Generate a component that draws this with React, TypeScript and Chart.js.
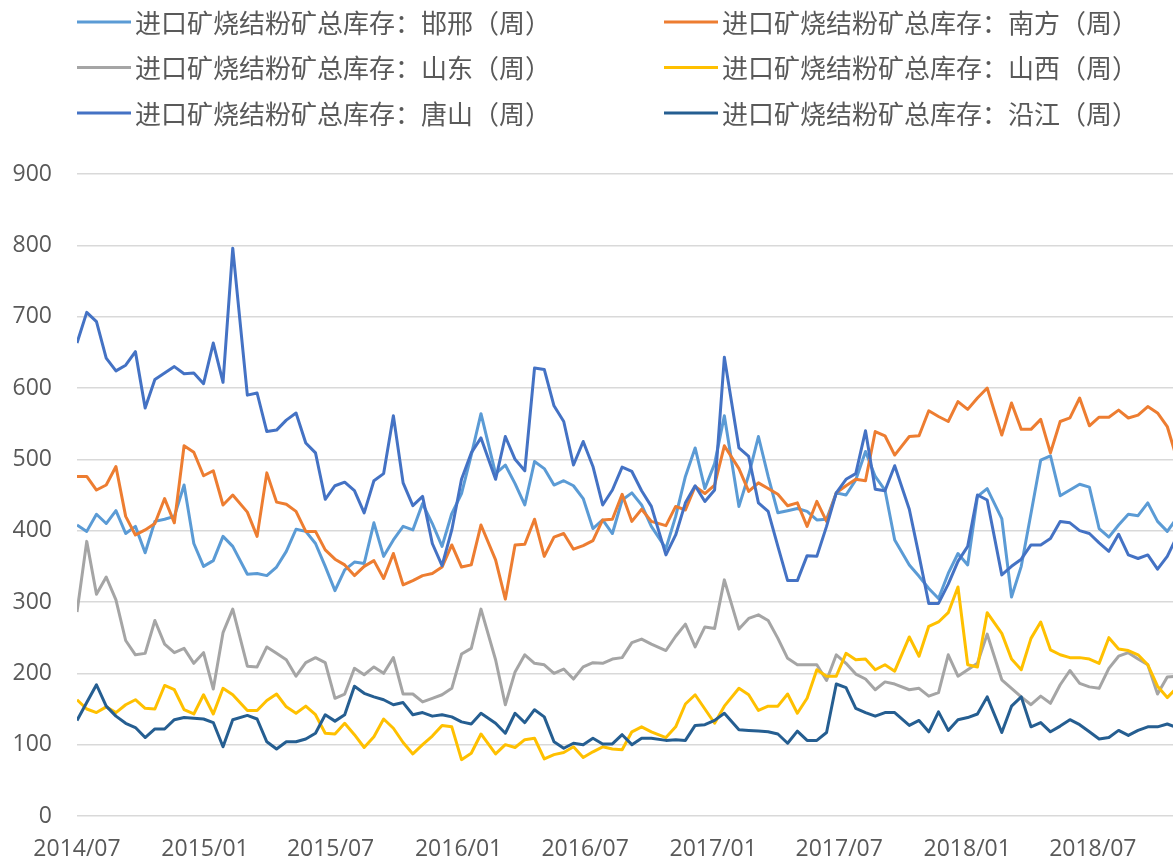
import React, { useEffect, useRef } from "react";
import { Chart, registerables } from "chart.js";

Chart.register(...registerables);

// x positions of the observations, in weeks after the first one (2014/07)
const weekOffsets = [
  0, 2, 4, 6, 8, 10, 12, 14, 16, 18, 20, 22, 24, 26, 28, 30, 32,
  35, 37, 39, 41, 43, 45, 47, 49, 51, 53, 55, 57, 59, 61, 63, 65, 67, 69, 71, 73, 75, 77, 79, 81, 83,
  86, 88, 90, 92, 94, 96, 98, 100, 102, 104, 106, 108, 110, 112, 114, 116, 118,
  121, 123, 125, 127, 129, 131, 133,
  136,
  138, 140, 142, 144, 146, 148, 150, 152, 154, 156, 158, 160, 162, 164, 166, 168,
  171, 173, 175, 177, 179, 181, 183, 185, 187,
  190, 192, 194, 196, 198, 200, 202, 204, 206, 208, 210, 212, 214, 216, 218, 220, 222, 224, 226,
];

const tickWeeks = [0, 26.3, 52.1, 78.4, 104.4, 130.7, 156.6, 182.9, 208.7];
const tickLabels = ["2014/07", "2015/01", "2015/07", "2016/01", "2016/07", "2017/01", "2017/07", "2018/01", "2018/07"];

const seriesNames = [
  "进口矿烧结粉矿总库存：邯邢（周）",
  "进口矿烧结粉矿总库存：南方（周）",
  "进口矿烧结粉矿总库存：山东（周）",
  "进口矿烧结粉矿总库存：山西（周）",
  "进口矿烧结粉矿总库存：唐山（周）",
  "进口矿烧结粉矿总库存：沿江（周）",
];

const handan = [
  408, 399, 423, 410, 428, 396, 406, 369, 413, 416, 420, 464, 382, 350, 358, 392, 378,
  339, 340, 337, 349, 371, 402, 399, 382, 350, 316, 345, 356, 354, 411, 364, 387, 406, 401, 438, 410, 378, 424, 452, 506, 564,
  480, 492, 466, 436, 497, 487, 464, 470, 463, 445, 403, 415, 396, 443, 453, 436, 406,
  375, 420, 476, 516, 459, 494, 561,
  434,
  478, 532, 476, 425, 428, 431, 427, 415, 416, 453, 450, 471, 511, 476, 457, 387,
  352, 336, 319, 305, 340, 368, 352, 448, 459,
  417, 307, 350, 424, 499, 505, 449, 457, 465, 461, 403, 391, 408, 423, 421, 439, 413, 399, 418,
];

const nanfang = [
  476, 476, 457, 464, 490, 420, 394, 401, 410, 445, 411, 519, 510, 477, 484, 436, 450,
  426, 392, 481, 440, 437, 427, 399, 399, 373, 360, 352, 337, 350, 358, 333, 368, 324, 330, 337, 340, 349, 380, 349, 352, 408,
  359, 304, 380, 381, 416, 364, 391, 396, 374, 379, 386, 415, 416, 451, 413, 430, 413,
  407, 434, 429, 462, 452, 464, 519,
  487,
  455, 467, 459, 451, 435, 439, 406, 441, 413, 453, 463, 472, 470, 539, 533, 506,
  532, 533, 568, 560, 553, 581, 570, 586, 600,
  534, 579, 542, 542, 556, 509, 553, 558, 586, 547, 559, 559, 569, 558, 562, 574, 565, 546, 500,
];

const shandong = [
  286, 385, 311, 335, 303, 246, 226, 228, 274, 241, 229, 235, 214, 229, 178, 257, 290,
  210, 209, 237, 228, 219, 196, 215, 222, 215, 165, 171, 207, 198, 209, 200, 222, 171, 171, 160, 165, 170, 179, 227, 235, 290,
  219, 156, 202, 226, 214, 212, 200, 206, 192, 209, 215, 214, 220, 222, 243, 248, 241,
  232, 252, 269, 237, 265, 263, 331,
  262,
  277, 282, 274, 249, 221, 212, 212, 212, 190, 226, 214, 199, 192, 177, 188, 185,
  177, 179, 168, 173, 226, 196, 205, 214, 255,
  191, 179, 167, 156, 168, 158, 184, 204, 186, 181, 179, 207, 224, 229, 220, 212, 171, 195, 196,
];

const shanxi = [
  163, 150, 145, 153, 145, 156, 163, 151, 150, 183, 177, 149, 143, 170, 143, 179, 170,
  148, 148, 162, 171, 153, 144, 154, 142, 116, 115, 130, 114, 96, 111, 136, 123, 103, 87, 100, 112, 127, 125, 79, 88, 115,
  87, 100, 96, 107, 109, 80, 86, 89, 97, 82, 90, 97, 94, 93, 118, 125, 118,
  110, 125, 157, 170, 150, 130, 154,
  179,
  170, 148, 154, 154, 171, 144, 165, 205, 196, 196, 228, 219, 220, 205, 212, 203,
  251, 224, 266, 272, 285, 321, 212, 209, 285,
  256, 220, 205, 249, 272, 233, 226, 222, 222, 220, 214, 250, 234, 232, 226, 212, 182, 166, 180,
];

const tangshan = [
  663, 706, 693, 642, 624, 632, 651, 572, 612, 621, 630, 620, 621, 606, 663, 608, 796,
  590, 593, 539, 541, 555, 565, 523, 509, 444, 463, 468, 456, 425, 470, 480, 561, 467, 435, 448, 382, 351, 401, 472, 509, 530,
  472, 532, 500, 484, 628, 626, 575, 553, 492, 525, 490, 436, 457, 489, 483, 456, 434,
  366, 394, 439, 463, 441, 457, 643,
  516,
  504, 439, 427, 378, 330, 330, 365, 364, 406, 453, 472, 480, 540, 458, 456, 491,
  430, 365, 298, 298, 325, 357, 378, 450, 443,
  338, 350, 360, 380, 380, 389, 413, 411, 400, 396, 383, 371, 395, 366, 361, 366, 346, 364, 392,
];

const yanjiang = [
  134, 159, 184, 154, 140, 130, 124, 110, 122, 122, 135, 138, 137, 136, 131, 97, 135,
  141, 136, 104, 94, 104, 104, 108, 116, 142, 133, 142, 182, 172, 167, 163, 156, 159, 142, 145, 140, 142, 139, 132, 129, 144,
  130, 116, 144, 131, 149, 139, 104, 95, 102, 100, 109, 101, 101, 114, 100, 109, 109,
  106, 107, 106, 127, 128, 134, 144,
  121,
  120, 119, 118, 115, 102, 119, 106, 106, 117, 185, 180, 151, 145, 140, 145, 145,
  127, 134, 118, 146, 120, 135, 138, 143, 167,
  117, 154, 167, 125, 131, 118, 126, 135, 128, 118, 108, 110, 120, 113, 120, 125, 125, 129, 124,
];

const seriesValues = [handan, nanfang, shandong, shanxi, tangshan, yanjiang];
const seriesColors = ["#5B9BD5", "#ED7D31", "#A5A5A5", "#FFC000", "#4472C4", "#255E91"];

const legendPlugin = {
  id: "twoColumnLegend",
  afterDraw(chart: any) {
    const ctx = chart.ctx;
    ctx.save();
    ctx.font = '26px "Noto Sans CJK SC"';
    ctx.textBaseline = "middle";
    ctx.textAlign = "left";
    chart.data.datasets.forEach((ds: any, i: number) => {
      const col = i % 2;
      const row = Math.floor(i / 2);
      const x = col === 0 ? 77 : 664;
      const y = 22 + row * 45.5;
      ctx.strokeStyle = ds.borderColor;
      ctx.lineWidth = 3;
      ctx.lineCap = "butt";
      ctx.beginPath();
      ctx.moveTo(x, y);
      ctx.lineTo(x + 54, y);
      ctx.stroke();
      ctx.fillStyle = "#595959";
      ctx.fillText(ds.label, x + 58, y + 1);
    });
    ctx.restore();
  },
};

export default function App() {
  const canvasRef = useRef<HTMLCanvasElement | null>(null);

  useEffect(() => {
    const canvas = canvasRef.current;
    if (!canvas) return;
    const datasets = seriesNames.map((name, s) => ({
      label: name,
      data: weekOffsets.map((w, i) => ({ x: w, y: seriesValues[s][i] })),
      borderColor: seriesColors[s],
      backgroundColor: seriesColors[s],
      borderWidth: 3,
      pointRadius: 0,
      pointHoverRadius: 0,
      tension: 0,
      fill: false,
      borderJoinStyle: "round" as const,
      order: seriesNames.length - 1 - s,
    }));

    const chart = new Chart(canvas, {
      type: "line",
      data: { datasets },
      options: {
        animation: false,
        responsive: false,
        maintainAspectRatio: false,
        parsing: false as any,
        layout: { padding: { top: 174, left: 0, right: 3, bottom: 0 } },
        plugins: {
          legend: { display: false },
          tooltip: { enabled: false },
          title: { display: false },
        },
        scales: {
          x: {
            type: "linear",
            min: 0,
            max: 226,
            grid: { display: false, drawTicks: false },
            border: { display: false },
            afterBuildTicks: (scale: any) => {
              scale.ticks = tickWeeks.map((v) => ({ value: v }));
            },
            afterFit: (scale: any) => {
              scale.height = 46;
            },
            ticks: {
              autoSkip: false,
              maxRotation: 0,
              minRotation: 0,
              padding: 20,
              color: "#595959",
              font: { family: '"Open Sans", "Noto Sans", sans-serif', size: 23 },
              callback: (_v: any, index: number) => tickLabels[index],
            },
          },
          y: {
            type: "linear",
            min: 0,
            max: 900,
            grid: { color: "#D9D9D9", lineWidth: 1.5, drawTicks: false },
            border: { display: false },
            afterFit: (scale: any) => {
              scale.width = 77;
            },
            ticks: {
              stepSize: 100,
              padding: 25,
              color: "#595959",
              font: { family: '"Open Sans", "Noto Sans", sans-serif', size: 23 },
            },
          },
        },
      },
      plugins: [legendPlugin],
    });
    return () => chart.destroy();
  }, []);

  return (
    <div
      style={{
        position: "fixed",
        left: 0,
        top: 0,
        width: 1173,
        height: 862,
        overflow: "hidden",
        background: "#ffffff",
      }}
    >
      <canvas ref={canvasRef} width={1180} height={862} style={{ display: "block", width: 1180, height: 862 }} />
    </div>
  );
}
